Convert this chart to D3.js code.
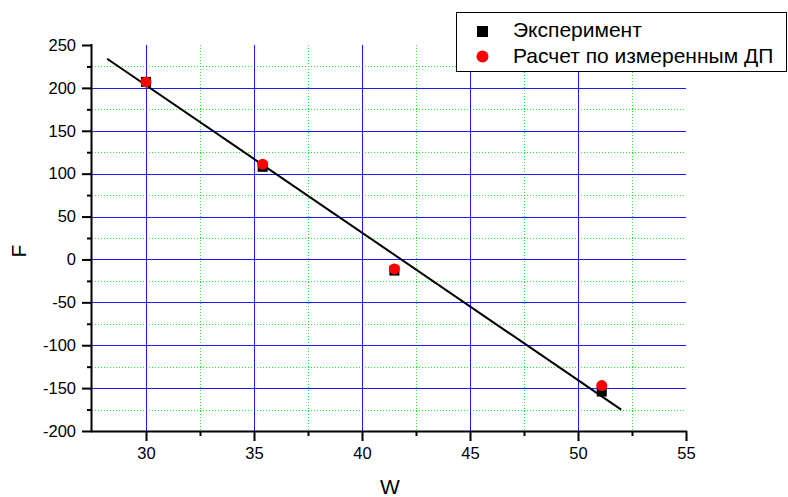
<!DOCTYPE html>
<html><head><meta charset="utf-8">
<script src="https://cdn.jsdelivr.net/npm/d3@7"></script>
<style>body{margin:0;background:#fff}svg{display:block}text{font-family:"Liberation Sans",Arial,sans-serif}</style>
</head><body>
<svg id="c" width="788" height="497"></svg>
<script>
const xValues = [30, 35.4, 41.5, 51.1];
const expValues = [207, 108, -13, -154];
const calcValues = [207, 111, -11, -147];
const fitX = [28.2, 52.0];
const fitY = [234, -175];
const xTicks = [30, 35, 40, 45, 50, 55];
const yTicks = [-200, -150, -100, -50, 0, 50, 100, 150, 200, 250];
const seriesNames = ["Эксперимент", "Расчет по измеренным ДП"];

const svg = d3.select("#c");
const L = 92, R = 686, T = 45, B = 431;
const x = d3.scaleLinear().domain([27.5, 55]).range([L, R]);
const y = d3.scaleLinear().domain([-200, 250]).range([B, T]);
const fmt = d => String(d).replace("\u2212", "-");

const xMinor = d3.range(32.5, 55, 5);
const yMinor = d3.range(-175, 250, 50);

// minor grid
svg.append("g").selectAll("line").data(yMinor).join("line")
  .attr("x1", L).attr("x2", R).attr("y1", d => Math.round(y(d)) + 0.5).attr("y2", d => Math.round(y(d)) + 0.5)
  .attr("stroke", "#22ee22").attr("stroke-dasharray", "1,2");
svg.append("g").selectAll("line").data(xMinor).join("line")
  .attr("y1", T).attr("y2", B).attr("x1", d => Math.round(x(d)) + 0.5).attr("x2", d => Math.round(x(d)) + 0.5)
  .attr("stroke", "#22ee22").attr("stroke-dasharray", "1,2");
// major grid
svg.append("g").selectAll("line").data(yTicks.filter(v => v > -200 && v < 250)).join("line")
  .attr("x1", L).attr("x2", R).attr("y1", d => Math.round(y(d)) + 0.5).attr("y2", d => Math.round(y(d)) + 0.5)
  .attr("stroke", "#1a1aff");
svg.append("g").selectAll("line").data(xTicks.filter(v => v < 55)).join("line")
  .attr("y1", T).attr("y2", B).attr("x1", d => Math.round(x(d)) + 0.5).attr("x2", d => Math.round(x(d)) + 0.5)
  .attr("stroke", "#1a1aff");

// axes
const xAxis = svg.append("g").attr("transform", `translate(0,${B})`)
  .call(d3.axisBottom(x).tickValues(xTicks).tickSize(10).tickPadding(6).tickFormat(fmt));
svg.append("g").attr("transform", `translate(0,${B})`)
  .call(d3.axisBottom(x).tickValues(xMinor).tickSize(5).tickFormat(""))
  .call(g => g.select(".domain").remove());
const yAxis = svg.append("g").attr("transform", `translate(${L},0)`)
  .call(d3.axisLeft(y).tickValues(yTicks).tickSize(10).tickPadding(6).tickFormat(fmt));
svg.append("g").attr("transform", `translate(${L},0)`)
  .call(d3.axisLeft(y).tickValues(yMinor).tickSize(5).tickFormat(""))
  .call(g => g.select(".domain").remove());
svg.selectAll(".domain").attr("stroke", "#000").attr("stroke-width", 2);
xAxis.select(".domain").attr("d", `M${L - 1},0.5H${R + 1}`);
yAxis.select(".domain").attr("d", `M-0.5,${T - 1}V${B + 1}`);
svg.selectAll(".tick line").attr("stroke", "#000").attr("stroke-width", 2);
svg.selectAll(".tick text").attr("font-size", 16.5).attr("fill", "#000")
  .attr("font-family", '"Liberation Sans",Arial,sans-serif');

// axis titles
svg.append("text").attr("x", 390).attr("y", 494).attr("text-anchor", "middle")
  .attr("font-size", 21).text("W");
svg.append("text").attr("transform", `translate(26,251) rotate(-90)`).attr("text-anchor", "middle")
  .attr("font-size", 21).text("F");

// fit line
svg.append("line").attr("x1", x(fitX[0])).attr("y1", y(fitY[0])).attr("x2", x(fitX[1])).attr("y2", y(fitY[1]))
  .attr("stroke", "#000").attr("stroke-width", 2);

// points
const s = 10;
svg.append("g").selectAll("rect").data(xValues).join("rect")
  .attr("x", (d) => x(d) - s / 2).attr("y", (d, i) => y(expValues[i]) - s / 2)
  .attr("width", s).attr("height", s).attr("fill", "#000");
svg.append("g").selectAll("circle").data(xValues).join("circle")
  .attr("cx", d => x(d)).attr("cy", (d, i) => y(calcValues[i])).attr("r", 5.5).attr("fill", "#ff0000");

// legend
const lg = svg.append("g");
lg.append("rect").attr("x", 456.5).attr("y", 12.5).attr("width", 330).attr("height", 59)
  .attr("fill", "#fff").attr("stroke", "#000");
lg.append("rect").attr("x", 477).attr("y", 26).attr("width", 11).attr("height", 11).attr("fill", "#000");
lg.append("circle").attr("cx", 482.5).attr("cy", 56.5).attr("r", 6).attr("fill", "#ff0000");
lg.selectAll("text").data(seriesNames).join("text")
  .attr("x", 513).attr("y", (d, i) => 37 + i * 26).attr("font-size", 21).text(d => d);
</script>
</body></html>
